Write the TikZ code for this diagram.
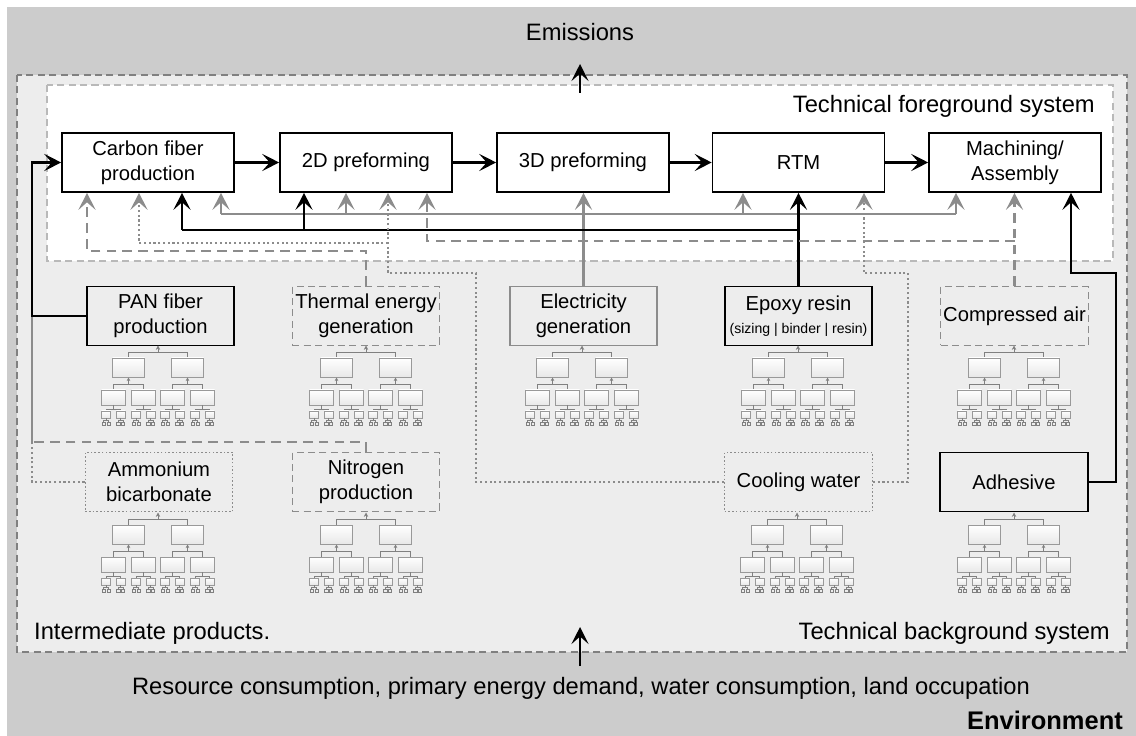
\documentclass[tikz,border=0pt]{standalone}
\usepackage{fontspec}
\setmainfont{Liberation Sans}
\usetikzlibrary{arrows.meta}

\definecolor{envgray}{HTML}{CCCCCC}
\definecolor{bglight}{HTML}{EDEDED}
\definecolor{lineg}{HTML}{8C8C8C}

% small supply chain tree below a background process
\newcommand{\bgtree}[2]{%
  \draw[treeline,-{Stealth[length=2.5pt,width=2.5pt]}] (#1,#2+7) -- (#1,#2+0.5);
  \foreach \i in {-1,1}{
    \pgfmathsetmacro{\ca}{#1+29.5*\i}
    \draw[treeline] (#1,#2+7) -| (\ca,#2+13);
    \draw[treebox] (\ca-16,#2+13) rectangle (\ca+16,#2+32);
    \draw[treeline,-{Stealth[length=2pt,width=2pt]}] (\ca,#2+39) -- (\ca,#2+32.5);
    \foreach \j in {-1,1}{
      \pgfmathsetmacro{\cb}{\ca+15*\j}
      \draw[treeline] (\ca,#2+39) -| (\cb,#2+45);
      \draw[treebox] (\cb-12,#2+45) rectangle (\cb+12,#2+60);
      \draw[treeline] (\cb,#2+60) -- (\cb,#2+64);
      \foreach \k in {-1,1}{
        \pgfmathsetmacro{\cc}{\cb+7.3*\k}
        \draw[treeline] (\cb,#2+64) -| (\cc,#2+66);
        \draw[treebox] (\cc-4.5,#2+66) rectangle (\cc+4.5,#2+73);
        \draw[treeline] (\cc,#2+73) -- (\cc,#2+75);
        \foreach \l in {-1,1}{
          \draw[treeline] (\cc,#2+75) -| (\cc+2.4*\l,#2+77);
          \draw[treeline] (\cc+2.4*\l-1.6,#2+77) rectangle (\cc+2.4*\l+1.6,#2+80);
        }
      }
    }
  }
}

\begin{document}
\begin{tikzpicture}[x=0.02cm, y=-0.02cm,
    >={Stealth[length=0.34cm,width=0.34cm,inset=0.15cm]},
    boxfont/.style={font=\fontsize{11.5}{14}\selectfont},
    labelfont/.style={font=\fontsize{13.5}{16}\selectfont},
    proc/.style={boxfont, draw=black, line width=0.9pt, fill=white, align=center,
      minimum width=3.44cm, minimum height=1.18cm, inner sep=1pt},
    bgproc/.style={boxfont, fill=bglight, align=center,
      minimum width=2.95cm, minimum height=1.18cm, inner sep=1pt},
    blackbox/.style={bgproc, draw=black, line width=0.9pt},
    greybox/.style={bgproc, draw=lineg, line width=0.9pt},
    dashbox/.style={bgproc, draw=lineg, line width=0.8pt, dash pattern=on 4pt off 2.5pt},
    dotbox/.style={bgproc, draw=lineg, line width=0.8pt, dash pattern=on 0.9pt off 1.2pt},
    flow/.style={black, line width=1.5pt},
    power/.style={lineg, line width=1.3pt},
    heat/.style={lineg, line width=1.3pt, dash pattern=on 5.5pt off 3.5pt},
    water/.style={lineg, line width=1.3pt, dash pattern=on 1.2pt off 1.5pt},
    treeline/.style={gray, line width=0.4pt},
    treebox/.style={draw=gray!80, line width=0.4pt, top color=white, bottom color=gray!18}]

        \useasboundingbox (0,0) rectangle (1136,736);
        % environment, background and foreground system
        \fill[envgray] (7,7) rectangle (1136,736);
        \draw[gray, fill=bglight, line width=0.7pt, dash pattern=on 4pt off 2.5pt] (17,75) rectangle (1127,652);
        \draw[gray!55, fill=white, line width=0.7pt, dash pattern=on 4pt off 2.5pt] (47,85) rectangle (1113,261);

        \node[labelfont, anchor=east] at (1101,106) {Technical foreground system};
        \node[labelfont, anchor=west] at (28,633) {Intermediate products.};
        \node[labelfont, anchor=east] at (1116,633) {Technical background system};
        \node[labelfont] (emis) at (580,32) {Emissions};
        \node[labelfont] (res) at (581,688) {Resource consumption, primary energy demand, water consumption, land occupation};
        \node[font=\fontsize{14.5}{17}\selectfont\bfseries, anchor=east] at (1129,720) {Environment};

        % foreground processes
        \node[proc] (cf) at (148,162.5) {Carbon fiber\\production};
        \node[proc] (p2d) at (366,162.5) {2D preforming};
        \node[proc] (p3d) at (583,162.5) {3D preforming};
        \node[proc] (rtm) at (798.5,162.5) {RTM};
        \node[proc] (mach) at (1015,162.5) {Machining/\\Assembly};

        % background processes
        \node[blackbox] (pan) at (160.5,316) {PAN fiber\\production};
        \node[dashbox] (thermal) at (366,316) {Thermal energy\\generation};
        \node[greybox] (elec) at (583.5,316) {Electricity\\generation};
        \node[blackbox] (epoxy) at (798.5,316) {Epoxy resin\\[-1pt]{\fontsize{8}{10}\selectfont(sizing | binder | resin)}};
        \node[dashbox] (air) at (1014.5,316) {Compressed air};

        \node[dotbox] (amm) at (159,482) {Ammonium\\bicarbonate};
        \node[dashbox] (nitro) at (366,482) {Nitrogen\\production};
        \node[dotbox] (cool) at (798.5,482) {Cooling water};
        \node[blackbox] (adh) at (1014,482) {Adhesive};

        \bgtree{158}{345}
        \bgtree{366}{345}
        \bgtree{582}{345}
        \bgtree{798}{345}
        \bgtree{1014}{345}
        \bgtree{158}{512}
        \bgtree{366}{512}
        \bgtree{797}{512}
        \bgtree{1014}{512}

        % main chain
        \draw[flow, ->] (cf.east) -- (p2d.west);
        \draw[flow, ->] (p2d.east) -- (p3d.west);
        \draw[flow, ->] (p3d.east) -- (rtm.west);
        \draw[flow, ->] (rtm.east) -- (mach.west);

        % emissions and resources
        \coordinate (emfrom) at (580,93);
        \coordinate (emto) at (580,64);
        \draw[flow, ->] (emfrom) -- (emto);
        \coordinate (resfrom) at (580,666);
        \coordinate (resto) at (580,627);
        \draw[flow, ->] (resfrom) -- (resto);

        % electricity
        \coordinate (e1) at (221,214);
        \coordinate (e2) at (346,214);
        \coordinate (e4) at (743,214);
        \coordinate (e5) at (956,214);
        \draw[power, ->] (elec.north) -- (elec.north |- p3d.south);
        \draw[power] (e1) -- (e5);
        \draw[power, ->] (e1) -- (e1 |- cf.south);
        \draw[power, ->] (e2) -- (e2 |- p2d.south);
        \draw[power, ->] (e4) -- (e4 |- rtm.south);
        \draw[power, ->] (e5) -- (e5 |- mach.south);

        % epoxy resin
        \coordinate (r1) at (182,230);
        \coordinate (r2) at (304,230);
        \draw[flow, ->] (epoxy.north) -- (epoxy.north |- rtm.south);
        \draw[flow] (r1) -- (r1 -| epoxy.north);
        \draw[flow, ->] (r1) -- (r1 |- cf.south);
        \draw[flow, ->] (r2) -- (r2 |- p2d.south);

        % thermal energy
        \coordinate (t1) at (87,251);
        \draw[heat, ->] (thermal.north) |- (t1) -- (t1 |- cf.south);

        % compressed air
        \coordinate (a1) at (427,241);
        \draw[heat, ->] (air.north) -- (air.north |- mach.south);
        \draw[heat, ->] (air.north |- a1) -- (a1) -- (a1 |- p2d.south);

        % PAN fiber, nitrogen, ammonium bicarbonate
        \coordinate (pn) at (32,316);
        \coordinate (n1) at (32,442);
        \draw[heat] (nitro.north) |- (n1);
        \draw[power, line width=1pt] (n1) -- (pn);
        \draw[flow, ->] (pan.west) -- (pn) |- (cf.west);
        \draw[water] (amm.west) -| (n1);

        % cooling water
        \coordinate (w1) at (476,273);
        \coordinate (w2) at (388,273);
        \coordinate (w3) at (139,243);
        \coordinate (w4) at (908,273);
        \coordinate (w5) at (864,273);
        \draw[water, ->] (cool.west) -| (w1) -- (w2) -- (w2 |- p2d.south);
        \draw[water, ->] (w2 |- w3) -- (w3) -- (w3 |- cf.south);
        \draw[water, ->] (cool.east) -| (w4) -- (w5) -- (w5 |- rtm.south);

        % adhesive
        \coordinate (h1) at (1116,273);
        \coordinate (h2) at (1071,273);
        \draw[flow, ->] (adh.east) -| (h1) -- (h2) -- (h2 |- mach.south);
\end{tikzpicture}
\end{document}
